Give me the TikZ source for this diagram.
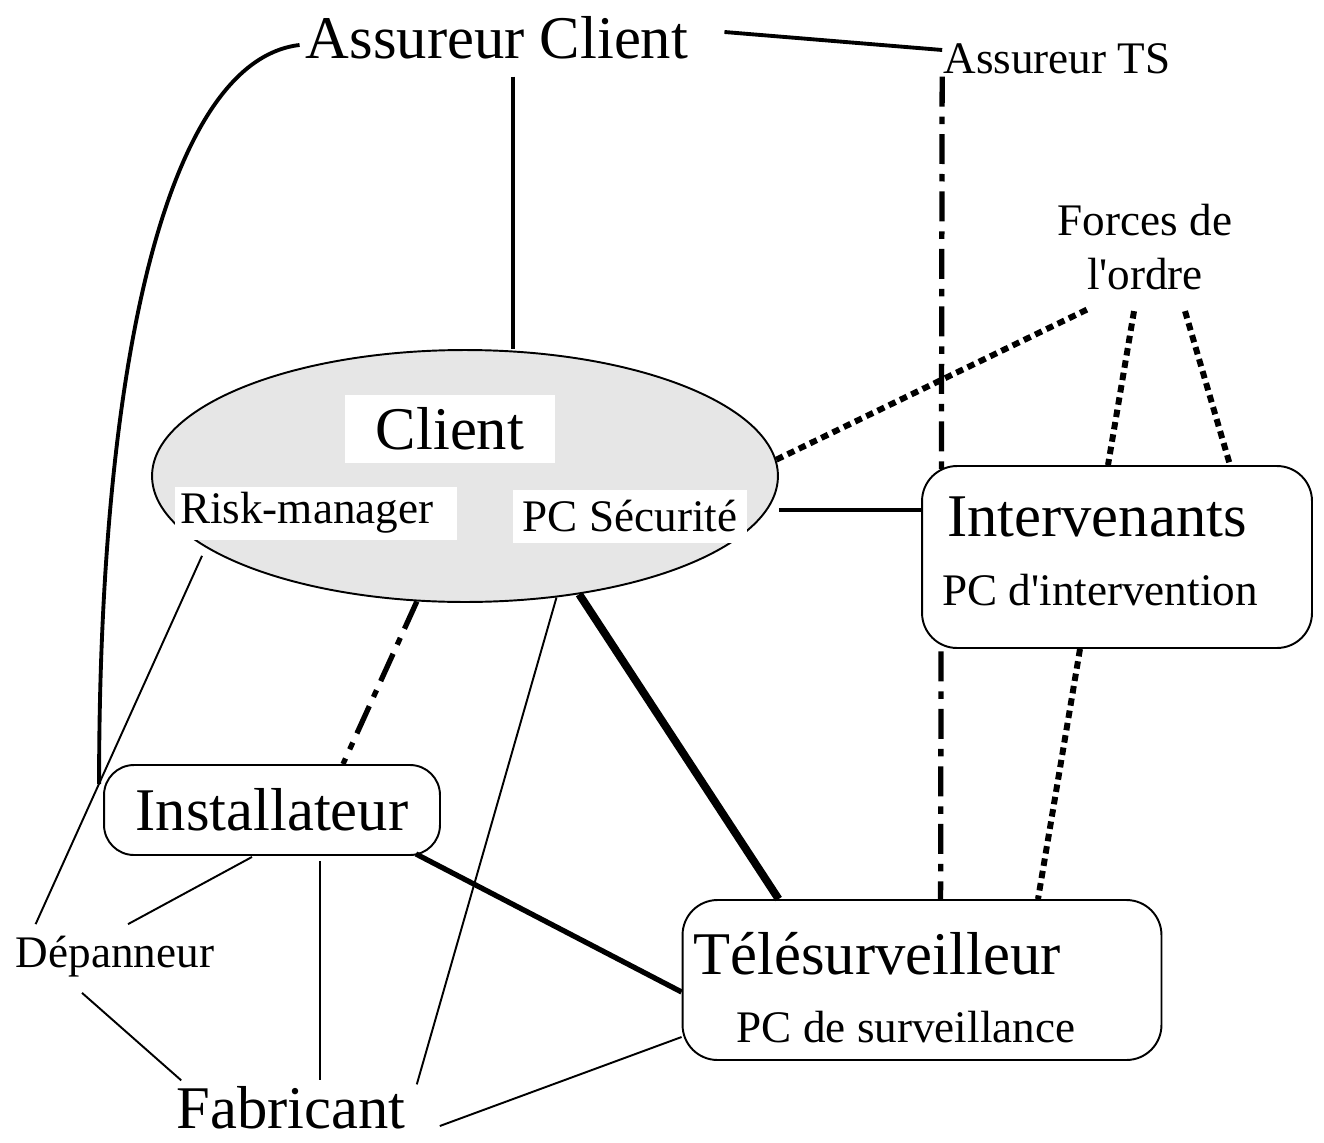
\documentclass[tikz,border=0pt]{standalone}
\usepackage{fontspec}
\setmainfont{Liberation Serif}
\usepackage{tikz}
\usetikzlibrary{calc,positioning,shapes.geometric}
\definecolor{clientgray}{HTML}{E6E6E6}
\newcommand{\bigtxt}{\fontsize{34.5}{40}\selectfont}
\newcommand{\smalltxt}{\fontsize{25.7}{30.6}\selectfont}
\tikzset{%
	lbl/.style      = {inner sep=0.12cm, font=\bigtxt}, % large label
	lblsm/.style    = {inner sep=0.12cm, font=\smalltxt}, % small label
	rbox/.style     = {draw, fill=white, rectangle, rounded corners=0.7cm, line width=1.1pt},
	whitebox/.style = {fill=white, inner sep=0pt, font=\smalltxt},
	party/.style    = {draw, ellipse, fill=clientgray, line width=1.1pt},
}
\tikzset{%
	thinlink/.style    = {line width=1.1pt},
	link/.style        = {line width=2.2pt},
	thicklink/.style   = {line width=3pt},
	hugelink/.style    = {line width=4.5pt},
	dotlink/.style     = {line width=3.4pt, dash pattern=on 0.15cm off 0.1cm},
	dashdotlink/.style = {line width=3pt, dash pattern=on 0.6cm off 0.2cm on 0.15cm off 0.2cm},
}

\begin{document}
\begin{tikzpicture}[x=0.02cm,y=-0.02cm]
	\useasboundingbox (0,0) rectangle (1324,1142);
	% the client and its parts
	\node [party, minimum width=12.52cm, minimum height=5.04cm] (cl) at (465,476) {};
	\node [whitebox, minimum width=4.2cm, minimum height=1.36cm, font=\bigtxt] (clt) at (450,429) {Client};
	\node [whitebox, minimum height=1.06cm, text width=5.44cm, inner xsep=0.1cm, align=left] (rm) at (316,513) {Risk-manager};
	\node [whitebox, minimum width=4.7cm, minimum height=1.06cm] (pcs) at (630,516) {PC Sécurité};
	
	\node [lbl] (ac) at (497,38) {Assureur Client};
	\node [lblsm] (ats) at (1057,59) {Assureur TS};
	\node [lblsm, align=center] (fo) at (1145,247) {Forces de\\l\textquotesingle ordre};
	
	\node [rbox, minimum width=9.58cm, minimum height=3.2cm] (ts) at (922,980) {};
	\node [lbl] (tst) at (877,954) {Télésurveilleur};
	\node [lblsm] (tss) at (906,1027) {PC de surveillance};
	
	% runs behind the Intervenants box
	\draw [dashdotlink] ([shift={(5,-4)}]ats.south west) -- ([shift={(259,0)}]ts.north west);
	
	\node [rbox, minimum width=7.8cm, minimum height=3.64cm] (iv) at (1117,557) {};
	\node [lbl] (ivt) at (1097,517) {Intervenants};
	\node [lblsm] (ivs) at (1100,590) {PC d\textquotesingle intervention};
	
	\node [rbox, rounded corners=0.6cm, minimum width=6.72cm, minimum height=1.8cm, font=\bigtxt] (ins) at (272,810) {Installateur};
	
	\node [lblsm] (dep) at (115,957) {Dépanneur};
	\node [lbl] (fab) at (291,1108) {Fabricant};
	
	% insurers
	\draw [link] ([shift={(30,-6)}]ac.east) -- ([shift={(5,-9)}]ats.west);
	\draw [link] ([shift={(16,11)}]ac.south) -- ([shift={(48,0)}]cl.north);
	\draw [link] ([shift={(0,7)}]ac.west) .. controls +(-129,15) and +(0,-435) .. ([shift={(-4,20)}]ins.north west);
	
	% forces de l'ordre
	\draw [dotlink] (cl.3) -- ([shift={(-55,12)}]fo.south);
	\draw [dotlink] ([shift={(-11,15)}]fo.south) -- ([shift={(-9,0)}]iv.north);
	\draw [dotlink] ([shift={(40,15)}]fo.south) -- ([shift={(113,0)}]iv.north);
	
	% intervenants
	\draw [link] ([shift={(0,34)}]cl.east) -- ([shift={(0,-47)}]iv.west);
	\draw [dotlink] ([shift={(-37,0)}]iv.south) -- ([shift={(116,0)}]ts.north);
	
	% client below
	\draw [dashdotlink] (cl.-111) -- ([shift={(71,0)}]ins.north);
	\draw [thinlink] (cl.-53) -- ([shift={(5,4)}]fab.north east);
	\draw [hugelink] (cl.-46) -- ([shift={(97,0)}]ts.north west);
	\draw [thicklink] ([shift={(-25,-2)}]ins.south east) -- ([shift={(0,12)}]ts.west);
	
	% maintenance and maker
	\draw [thinlink] ([shift={(-114,16)}]rm.south) -- ([shift={(26,-6)}]dep.north west);
	\draw [thinlink] ([shift={(-20,1)}]ins.south) -- ([shift={(13,-6)}]dep.north);
	\draw [thinlink] ([shift={(48,5)}]ins.south) -- ([shift={(29,0)}]fab.north);
	\draw [thinlink] ([shift={(-33,9)}]dep.south) -- ([shift={(11,0)}]fab.north west);
	\draw [thinlink] ([shift={(28,18)}]fab.east) -- ([shift={(0,57)}]ts.west);
\end{tikzpicture}
\end{document}
